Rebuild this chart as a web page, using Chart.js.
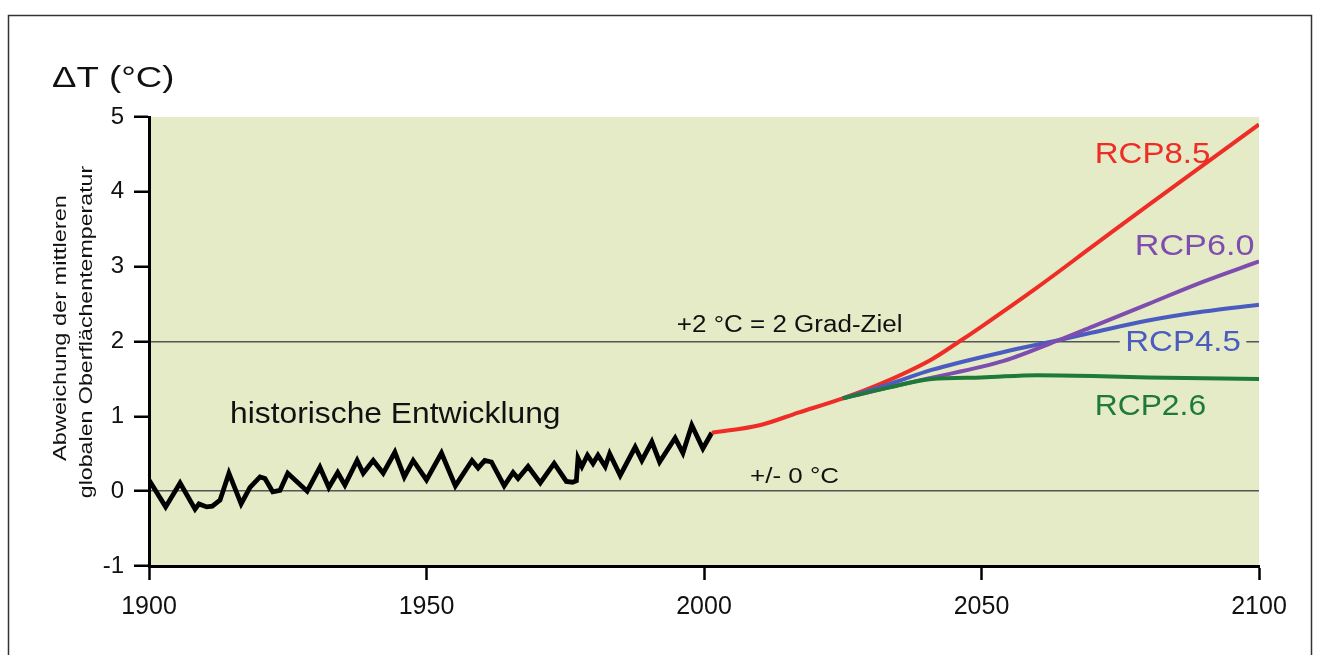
<!DOCTYPE html>
<html><head><meta charset="utf-8">
<script src="https://cdn.jsdelivr.net/npm/chart.js@4/dist/chart.umd.min.js"></script>
<style>html,body{margin:0;padding:0;background:#fff}#wrap{position:absolute;left:0;top:0;width:1320px;height:655px}</style>
</head><body><div id="wrap"><canvas id="c" width="1320" height="655"></canvas></div>
<script>
// ---- data ----
const histYears  = [1900,1903,1905.6,1908.3,1909,1910.4,1911.4,1912.8,1914.4,1916.6,1918.2,1920,1920.9,1922.3,1923.6,1925,1928.5,1930.8,1932.4,1934,1935.3,1937.5,1938.6,1940.4,1942.2,1944.3,1946,1947.6,1950,1952.7,1955.2,1958.2,1959.3,1960.5,1961.7,1964,1965.6,1966.5,1968.3,1970.5,1973,1975.2,1976.3,1977,1977.3,1978,1979,1980,1980.9,1982.2,1983,1984.9,1987.6,1988.8,1990.6,1992,1994.8,1996.2,1997.8,1999.8,2001.4];
const histValues = [0.15,-0.21,0.11,-0.24,-0.17,-0.21,-0.2,-0.12,0.24,-0.17,0.05,0.19,0.17,-0.01,0.01,0.24,0.0,0.32,0.05,0.25,0.08,0.41,0.24,0.41,0.24,0.52,0.19,0.41,0.15,0.51,0.07,0.41,0.31,0.41,0.39,0.07,0.25,0.17,0.33,0.11,0.37,0.13,0.12,0.14,0.44,0.33,0.48,0.37,0.48,0.33,0.5,0.21,0.59,0.41,0.66,0.39,0.71,0.51,0.88,0.57,0.78];
const rcp85Years  = [2001.4,2010,2017,2025,2032,2041,2046,2050,2060,2070,2080,2090,2100];
const rcp85Values = [0.78,0.88,1.05,1.24,1.44,1.76,2.0,2.2,2.72,3.27,3.82,4.36,4.9];
const rcp60Years  = [2025,2033,2040,2054,2064,2070,2080,2090,2100];
const rcp60Values = [1.24,1.38,1.5,1.74,2.02,2.2,2.5,2.8,3.07];
const rcp45Years  = [2025,2033,2041,2054,2064,2070,2080,2090,2100];
const rcp45Values = [1.24,1.42,1.62,1.86,2.02,2.12,2.28,2.4,2.49];
const rcp26Years  = [2025,2033,2041,2050,2060,2070,2080,2090,2100];
const rcp26Values = [1.24,1.38,1.5,1.52,1.55,1.54,1.52,1.51,1.5];
const xTicks = [1900,1950,2000,2050,2100];
const yTicks = [-1,0,1,2,3,4,5];
const refLines = [0,2];

const pts = (xs, ys) => xs.map((x,i)=>({x:x, y:ys[i]}));
const FONT = "'Liberation Sans', Arial, sans-serif";

const C = {red:'#EE2D27', purple:'#7F4DAF', blue:'#4B5CC0', green:'#1E7A38', bg:'#E5EBC6'};

function txt(ctx, s, x, y, size, color, opts={}){
  ctx.save();
  ctx.font = size + 'px ' + FONT;
  ctx.fillStyle = color;
  ctx.textBaseline = 'middle';
  ctx.textAlign = opts.align || 'left';
  ctx.translate(x, y);
  if (opts.rot) ctx.rotate(opts.rot);
  if (opts.sx) ctx.scale(opts.sx, 1);
  if (opts.bg){
    const w = ctx.measureText(s).width;
    ctx.fillStyle = opts.bg;
    let x0 = opts.align==='center' ? -w/2 : (opts.align==='right' ? -w : 0);
    ctx.fillRect(x0-5, -size*0.45, w+10, size*0.9);
    ctx.fillStyle = color;
  }
  ctx.fillText(s, 0, 0);
  ctx.restore();
}

const bgPlugin = {
  id:'bg',
  beforeDraw(chart){
    const {ctx, chartArea:a} = chart;
    ctx.save();
    ctx.fillStyle = C.bg;
    ctx.fillRect(a.left, a.top, a.right-a.left, a.bottom-a.top);
    ctx.strokeStyle = '#333'; ctx.lineWidth = 1.5;
    ctx.beginPath();
    ctx.moveTo(8.5, 660); ctx.lineTo(8.5, 15.5); ctx.lineTo(1311.5, 15.5); ctx.lineTo(1311.5, 660);
    ctx.stroke();
    ctx.restore();
  },
  beforeDatasetsDraw(chart){
    const {ctx, scales} = chart;
    const x = scales.x, y = scales.y;
    txt(ctx, '+2 °C = 2 Grad-Ziel', x.getPixelForValue(1995.1), y.getPixelForValue(2)-16, 23, '#111', {sx:1.13});
    txt(ctx, '+/- 0 °C', x.getPixelForValue(2008.3), y.getPixelForValue(0)-14, 22, '#111', {sx:1.18});
    txt(ctx, 'historische Entwicklung', x.getPixelForValue(1914.6), y.getPixelForValue(1.02), 30, '#111', {sx:1.06});
  },
  afterDatasetsDraw(chart){
    const {ctx, scales} = chart;
    const x = scales.x, y = scales.y;
    txt(ctx, 'RCP8.5', x.getPixelForValue(2070.4), y.getPixelForValue(4.5), 30, C.red, {sx:1.1});
    txt(ctx, 'RCP6.0', x.getPixelForValue(2077.6), y.getPixelForValue(3.26), 30, C.purple, {sx:1.14});
    txt(ctx, 'RCP4.5', x.getPixelForValue(2075.9), y.getPixelForValue(1.99), 30, C.blue, {sx:1.1, bg:C.bg});
    txt(ctx, 'RCP2.6', x.getPixelForValue(2070.4), y.getPixelForValue(1.13), 30, C.green, {sx:1.06});
    txt(ctx, 'ΔT (°C)', 52, 79, 30, '#111', {sx:1.22});
    txt(ctx, 'Abweichung der mittleren', 61, 328, 19, '#111', {rot:-Math.PI/2, align:'center', sx:1.24});
    txt(ctx, 'globalen Oberflächentemperatur', 87, 332, 19, '#111', {rot:-Math.PI/2, align:'center', sx:1.22});
  }
};

const lineDs = (label, data, color, extra={}) => Object.assign({
  label, data, borderColor: color, backgroundColor: color, borderWidth: 4,
  pointRadius: 0, fill: false, tension: 0
}, extra);

new Chart(document.getElementById('c'), {
  type: 'line',
  data: {
    datasets: [
      lineDs('RCP2.6', pts(rcp26Years, rcp26Values), C.green, {cubicInterpolationMode:'monotone'}),
      lineDs('RCP6.0', pts(rcp60Years, rcp60Values), C.purple, {cubicInterpolationMode:'monotone'}),
      lineDs('RCP4.5', pts(rcp45Years, rcp45Values), C.blue, {cubicInterpolationMode:'monotone'}),
      lineDs('RCP8.5', pts(rcp85Years, rcp85Values), C.red, {cubicInterpolationMode:'monotone'}),
      lineDs('historisch', pts(histYears, histValues), '#000', {borderWidth: 4.8, borderJoinStyle:'miter'})
    ]
  },
  options: {
    responsive: false, animation: false,
    layout: {padding: {left: 0, right: 61, top: 117, bottom: 0}},
    plugins: {legend: {display: false}, tooltip: {enabled: false}},
    scales: {
      x: {
        type: 'linear', min: 1900, max: 2100,
        afterBuildTicks: s => { s.ticks = xTicks.map(v => ({value: v})); },
        afterFit: s => { s.height = 89; },
        grid: {display: true, drawOnChartArea: false, drawTicks: true, tickLength: 14, tickColor: '#000', tickWidth: 2.5},
        border: {display: true, color: '#000', width: 3},
        ticks: {color: '#111', font: {family: FONT, size: 25}, padding: 12, maxRotation: 0, autoSkip: false,
                callback: v => String(v)}
      },
      y: {
        type: 'linear', min: -1, max: 5,
        afterBuildTicks: s => { s.ticks = yTicks.map(v => ({value: v})); },
        afterFit: s => { s.width = 149; },
        grid: {
          display: true, drawTicks: true, tickLength: 15, tickWidth: 2.5, tickColor: '#000',
          color: c => refLines.includes(c.tick.value) ? '#555' : 'rgba(0,0,0,0)',
          lineWidth: 1.5
        },
        border: {display: true, color: '#000', width: 3},
        ticks: {color: '#111', font: {family: FONT, size: 24}, padding: 10, callback: v => String(v)}
      }
    }
  },
  plugins: [bgPlugin]
});
</script></body></html>
